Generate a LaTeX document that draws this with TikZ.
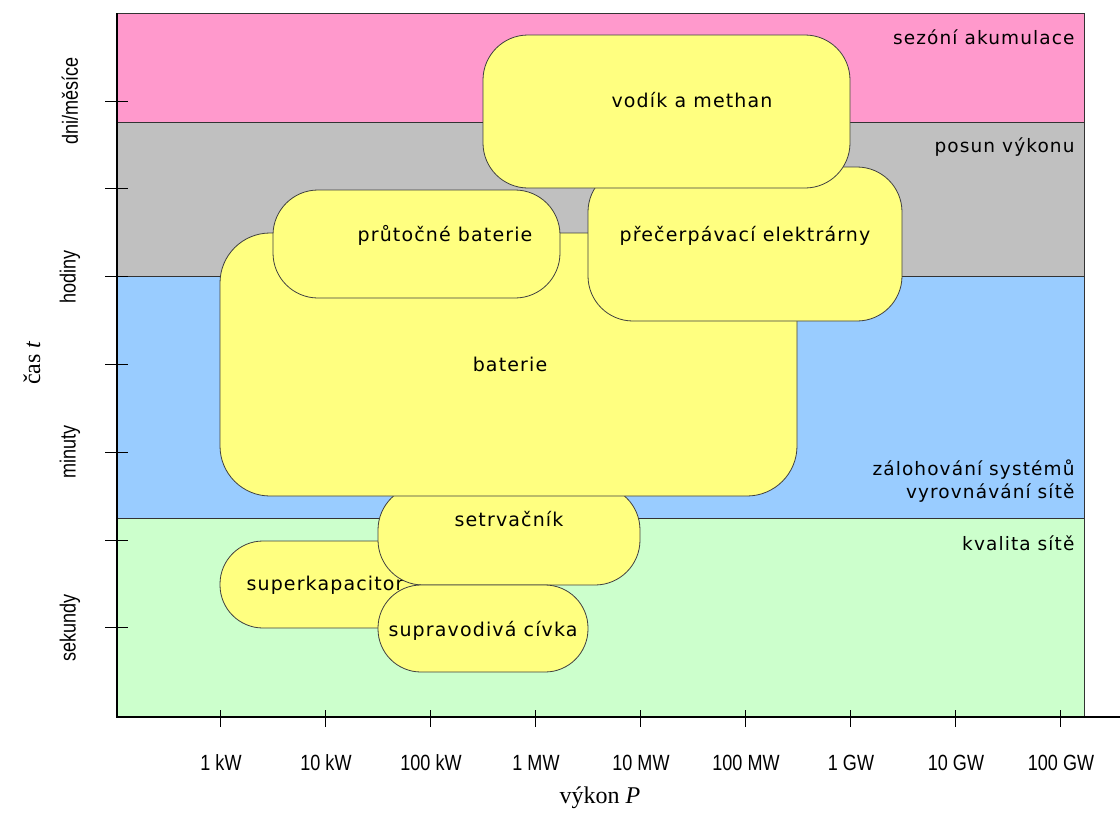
\documentclass[tikz,border=0pt]{standalone}
\usepackage{fontspec}
\setmainfont[LetterSpace=6]{DejaVu Sans}
\newfontfamily\narrowfont[FakeStretch=0.82]{Liberation Sans}
\newfontfamily\serifont{Liberation Serif}
\usepackage{xcolor}
\definecolor{bandpink}{HTML}{FF99CC}
\definecolor{bandgray}{HTML}{C0C0C0}
\definecolor{bandblue}{HTML}{99CCFF}
\definecolor{bandgreen}{HTML}{CCFFCC}
\definecolor{storeyellow}{HTML}{FFFF80}

\begin{document}
\begin{tikzpicture}[
			     x=1pt, y=-1pt,
			     band/.style={draw=black!80, line width=0.9pt},
			     store/.style={draw=black!75, fill=storeyellow, line width=0.8pt, rounded corners=45pt, inner sep=0pt},
			     storetext/.style={font=\fontsize{19}{23}\selectfont, text height=1.5ex, text depth=0.25ex, yshift=-3.5pt},
			     bandtext/.style={font=\fontsize{18.5}{23}\selectfont, anchor=east, align=right},
			     ticktext/.style={font=\narrowfont\fontsize{22}{24}\selectfont}
			     ]
\useasboundingbox (0,0) rectangle (1120,812);
\coordinate (origin) at (117,717);
\coordinate (ytop) at (117,13);
\coordinate (xend) at (1120,717);
% bands
\draw[band, fill=bandpink] (ytop) rectangle (1084,122);
\draw[band, fill=bandgray] (117,122) rectangle (1084,276);
\draw[band, fill=bandblue] (117,276) rectangle (1084,518);
\draw[band, fill=bandgreen] (117,518) rectangle (1084,717);
\node[bandtext] (seas) at (1078,37) {sezóní akumulace};
\node[bandtext] (shift) at (1078,147) {posun výkonu};
\node[bandtext] (backup) at (1078,481) {zálohování systémů\\vyrovnávání sítě};
\node[bandtext] (qual) at (1078,543) {kvalita sítě};
% storage
\node[store, rounded corners=43pt, minimum width=210pt, minimum height=87pt] (supcap) at (325,584.5) {};
\node[storetext] (supcapt) at (325,584) {superkapacitor};
\node[store, minimum width=262pt, minimum height=100pt] (flyw) at (509,535) {};
\node[storetext] (flywt) at (509,520) {setrvačník};
\node[store, rounded corners=43pt, minimum width=210pt, minimum height=87pt] (smes) at (483,628.5) {};
\node[storetext] (smest) at (483,630) {supravodivá cívka};
\node[store, rounded corners=50pt, minimum width=577pt, minimum height=263pt] (batt) at (508.5,364.5) {};
\node[storetext] (battt) at (510,365) {baterie};
\node[store, minimum width=287pt, minimum height=108pt] (flow) at (416.5,244) {};
\node[storetext] (flowt) at (445,235) {průtočné baterie};
\node[store, minimum width=314pt, minimum height=154pt] (pump) at (745,244) {};
\node[storetext] (pumpt) at (745,235) {přečerpávací elektrárny};
\node[store, minimum width=367pt, minimum height=153pt] (hydro) at (666.5,111.5) {};
\node[storetext] (hydrot) at (692,101) {vodík a methan};
% axes
\draw[line width=2.4pt] (ytop) -- (origin) -- (xend);
\foreach \i in {0,...,6}
	\draw[line width=1pt] (105,101+87.8*\i) -- (128,101+87.8*\i);
\foreach \lbl [count=\i from 0] in {1 kW,10 kW,100 kW,1 MW,10 MW,100 MW,1 GW,10 GW,100 GW} {
	\draw[line width=1pt] (220+105*\i,710) -- (220+105*\i,727);
	\node[ticktext] (xl\i) at (221+105*\i,763) {\lbl};
}
\foreach \lbl [count=\i from 0] in {dni/měsíce,hodiny,minuty,sekundy}
	\node[ticktext, rotate=90] (yl\i) at (70,101+175.6*\i) {\lbl};
\node[font=\serifont\fontsize{24}{26}\selectfont, rotate=90] (tlab) at (32,363) {čas \textit{t}};
\node[font=\serifont\fontsize{24}{26}\selectfont] (plab) at (600,798) {výkon \textit{P}};
\end{tikzpicture}
\end{document}
